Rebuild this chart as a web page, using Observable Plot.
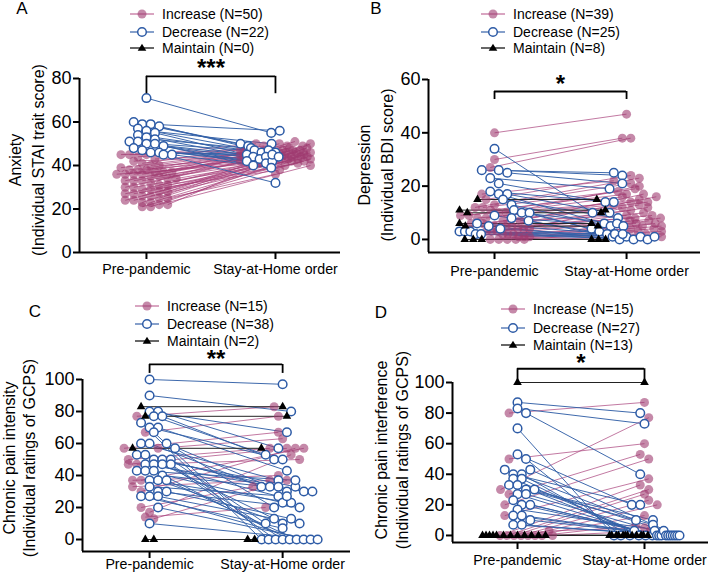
<!DOCTYPE html>
<html><head><meta charset="utf-8">
<script src="https://cdn.jsdelivr.net/npm/d3@7"></script>
<script src="https://cdn.jsdelivr.net/npm/@observablehq/plot@0.6"></script>
<style>
body{margin:0;background:#fff;font-family:"Liberation Sans",Arial,Helvetica,sans-serif;color:#000}
#root{position:relative;width:708px;height:573px;overflow:hidden;background:#fff}
.panel{position:absolute;width:354px}
.panel svg.plot{position:absolute;left:0;top:0;overflow:visible}
.letter{position:absolute;font-size:17px;transform:translate(-50%,-50%)}
.ytitle{position:absolute;font-size:16px;white-space:nowrap;text-align:center;transform:translate(-50%,-50%) rotate(-90deg)}
.leg{position:absolute;font-size:14px;line-height:14px;display:flex;align-items:center;white-space:nowrap;transform:translateY(-50%)}
.leg span{margin-left:8px}
</style>
</head><body>
<div id="root"></div>
<script>
// ---------- labels ----------
const timeLabels = ["Pre-pandemic", "Stay-at-Home order"];
const groupLabels = ["Increase", "Decrease", "Maintain"];
const panelLetters = ["A", "B", "C", "D"];
const yTitleLine1 = ["Anxiety", "Depression", "Chronic pain intensity", "Chronic pain interference"];
const yTitleLine2 = ["(Individual STAI trait score)", "(Individual BDI score)", "(Individual ratings of GCPS)", "(Individual ratings of GCPS)"];
const yTickValues = [[0, 20, 40, 60, 80], [0, 20, 40, 60], [0, 20, 40, 60, 80, 100], [0, 20, 40, 60, 80, 100]];
const sigLabels = ["***", "*", "**", "*"];
const sigLevels = [81, 55.5, 109.4, 109];
const sigLegEnds = [73, 52.5, 103.8, 100];
const aN = [50, 22, 0];
const bN = [39, 25, 8];
const cN = [15, 38, 2];
const dN = [15, 27, 13];

// ---------- Panel A: Anxiety ----------
const aIncPre  = [45,45,44,45,43,42,41,40,40,39,38,38,38,37,37,37,36,36,36,36,35,35,34,34,33,33,33,32,31,31,30,30,29,29,28,28,27,27,26,26,25,25,24,24,23,23,22,22,21,21];
const aIncPost = [47,46,48,50,45,44,49,46,43,47,45,42,48,44,50,46,41,47,43,45,49,44,46,42,48,45,43,51,44,40,47,42,46,38,45,49,43,41,47,44,46,36,45,42,48,44,40,50,43,46];
const aDecPre  = [71,60,59,59,58,57,56,55,54,53,52,51,51,50,50,49,48,47,46,46,45,45];
const aDecPost = [55,50,49,56,48,47,50,45,46,44,47,43,42,44,46,40,41,42,45,44,32,39];
const aMaiPre  = [];
const aMaiPost = [];

// ---------- Panel B: Depression ----------
const bIncPre  = [40,30,27,17,15,13,12,12,11,10,10,9,9,8,8,7,7,6,6,5,5,5,4,4,4,3,3,3,2,2,2,1,1,1,0,0,0,0,0];
const bIncPost = [47,38,38,22,24,21,23,18,17,16,20,14,19,13,15,12,17,9,14,11,16,8,10,13,7,9,6,12,8,5,4,7,3,6,5,2,4,3,1];
const bDecPre  = [34,26,26,25,23,21,18,17,17,15,13,11,10,10,9,8,7,6,5,4,3,3,3,2,2];
const bDecPost = [10,25,24,21,19,14,14,6,10,8,5,4,6,3,2,5,1,2,0,1,2,0,1,0,1];
const bMaiPre  = [15,11,10,6,5,0,0,0];
const bMaiPost = [15,11,10,6,5,0,0,0];

// ---------- Panel C: Chronic pain intensity ----------
const cIncPre  = [77,67,57,50,47,37,33,30,20,17,14,13,57,37,47];
const cIncPost = [83,77,67,57,57,40,37,57,33,53,20,37,63,57,50];
const cDecPre  = [100,90,80,80,77,77,73,70,70,67,60,60,60,57,53,53,50,50,50,47,47,47,47,43,43,43,40,37,37,37,33,30,30,27,27,27,20,10];
const cDecPost = [97,80,67,57,53,50,0,50,43,0,37,33,33,20,33,30,33,0,10,30,27,13,0,37,23,0,30,23,10,0,27,20,13,7,0,10,0,0];
const cMaiPre  = [83,77,57,0,0];
const cMaiPost = [83,77,57,0,0];

// ---------- Panel D: Chronic pain interference ----------
const dIncPre  = [80,50,30,27,20,13,0,0,0,0,0,0,0,3,0];
const dIncPost = [87,60,77,53,50,37,33,30,27,23,20,13,7,5,3];
const dDecPre  = [87,83,80,70,53,50,43,40,40,37,37,33,33,30,27,27,23,20,20,17,13,13,10,7,7,43,30];
const dDecPost = [80,73,40,0,20,0,10,20,0,3,0,10,0,7,0,3,0,0,0,3,0,0,0,0,0,0,0];
const dMaiPre  = [100,0,0,0,0,0,0,0,0,0,0,0,0];
const dMaiPost = [100,0,0,0,0,0,0,0,0,0,0,0,0];

// ---------- styling ----------
const PINK = "#9e3a70", PINK_LINE = "#a8407a", BLUE = "#2d5ba6", BLUE_LINE = "#3461a8", BLACK = "#000";

// layout per panel (positions/margins only)
const layouts = [
  {left:0, top:0, h:286, mt:78, mb:34, ml:79, mr:14, xd:[-0.519,1.504], yd:[0,80], xPad:4,
   letter:[22,9], title:[26.5,160], lh:23, leg:{x:130, y:[14,32,48]}, starY:87.2},
  {left:354, top:0, h:286, mt:79, mb:34, ml:74, mr:8, xd:[-0.5,1.56], yd:[-4.9,60], xPad:6,
   letter:[22,9], title:[21.5,165], lh:23, leg:{x:127, y:[14,32,48]}, starY:60.2},
  {left:0, top:286, h:287, mt:93, mb:22, ml:82, mr:4, xd:[-0.504,1.51], yd:[-7.5,100], xPad:0,
   letter:[35,26], title:[20,172], lh:20, leg:{x:135, y:[20,38,55]}, starY:116},
  {left:354, top:286, h:287, mt:96, mb:31, ml:98, mr:0, xd:[-0.512,1.504], yd:[-4.6,100], xPad:5,
   letter:[27,27], title:[37.5,164], lh:21, leg:{x:147, y:[23,42,59]}, starY:116}
];

const panelGroups = [
  [[aIncPre,aIncPost],[aDecPre,aDecPost],[aMaiPre,aMaiPost]],
  [[bIncPre,bIncPost],[bDecPre,bDecPost],[bMaiPre,bMaiPost]],
  [[cIncPre,cIncPost],[cDecPre,cDecPost],[cMaiPre,cMaiPost]],
  [[dIncPre,dIncPost],[dDecPre,dDecPost],[dMaiPre,dMaiPost]]
];
const panelN = [aN, bN, cN, dN];

const BIN = 6, SP = 8.5, MAXW = 70;

function swarm(points, yPx) {
  const sorted = points.slice().sort((a, b) => yPx(a.v) - yPx(b.v));
  const bins = [];
  let cur = null;
  for (const p of sorted) {
    const py = yPx(p.v);
    if (!cur || py - cur.y0 > BIN) { cur = {y0: py, items: []}; bins.push(cur); }
    cur.items.push(p);
  }
  for (const b of bins) {
    const n = b.items.length;
    const s = n > 1 ? Math.min(SP, MAXW / (n - 1)) : 0;
    b.items.sort((p, q) => (p.i * 3 + p.g) - (q.i * 3 + q.g));
    b.items.forEach((p, j) => { p.off = (j - (n - 1) / 2) * s; });
  }
}

function legendSvg(g) {
  const col = g === 0 ? "#c06a98" : g === 1 ? BLUE_LINE : BLACK;
  let m;
  if (g === 0) m = `<circle cx="12" cy="6" r="4.5" fill="${PINK}" fill-opacity="0.6"/>`;
  else if (g === 1) m = `<circle cx="12" cy="6" r="4.3" fill="#fff" stroke="${BLUE}" stroke-width="1.5"/>`;
  else m = `<path d="M12,1.8L16.3,8.8L7.7,8.8Z" fill="#000"/>`;
  return `<svg width="24" height="12" style="overflow:visible"><line x1="0" x2="24" y1="6" y2="6" stroke="${col}" stroke-width="1.2"/>${m}</svg>`;
}

const root = document.getElementById("root");

layouts.forEach((L, pi) => {
  const div = document.createElement("div");
  div.className = "panel";
  div.style.left = L.left + "px"; div.style.top = L.top + "px"; div.style.height = L.h + "px";
  root.appendChild(div);

  const W = 354;
  const kx = (W - L.ml - L.mr) / (L.xd[1] - L.xd[0]);
  const yS = Plot.scale({y: {domain: L.yd, range: [L.h - L.mb, L.mt]}});
  const yPx = v => yS.apply(v);

  const pts = [];
  const pairs = [];
  panelGroups[pi].forEach(([pre, post], g) => {
    pre.forEach((v, i) => {
      const a = {g, i, t: 0, v};
      const b = {g, i, t: 1, v: post[i]};
      pts.push(a, b);
      pairs.push([a, b]);
    });
  });
  swarm(pts.filter(p => p.t === 0), yPx);
  swarm(pts.filter(p => p.t === 1), yPx);
  pts.forEach(p => { p.x = p.t + p.off / kx; });
  const links = pairs.map(([a, b]) => ({g: a.g, x1: a.x, y1: a.v, x2: b.x, y2: b.v}));

  const yTop = yTickValues[pi][yTickValues[pi].length - 1];
  const font = "Liberation Sans, Arial, Helvetica, sans-serif";

  const chart = Plot.plot({
    width: W, height: L.h,
    marginTop: L.mt, marginBottom: L.mb, marginLeft: L.ml, marginRight: L.mr,
    style: {fontFamily: font, color: "#000", background: "transparent", overflow: "visible"},
    x: {domain: L.xd, label: null},
    y: {domain: L.yd, label: null},
    marks: [
      Plot.axisY({ticks: yTickValues[pi], tickSize: 6, tickPadding: 2, fontSize: 18, strokeWidth: 2, label: null}),
      Plot.axisX({ticks: [0, 1], tickFormat: d => timeLabels[d], tickSize: 7, tickPadding: L.xPad, fontSize: 14.2, strokeWidth: 2, label: null}),
      Plot.ruleY([L.yd[0]], {x1: L.xd[0], x2: L.xd[1], stroke: "#000", strokeWidth: 2}),
      Plot.ruleX([L.xd[0]], {y1: L.yd[0], y2: yTop, stroke: "#000", strokeWidth: 2}),
      Plot.link(links.filter(d => d.g === 0), {x1: "x1", y1: "y1", x2: "x2", y2: "y2", stroke: PINK_LINE, strokeOpacity: 0.7, strokeWidth: 1}),
      Plot.link(links.filter(d => d.g === 1), {x1: "x1", y1: "y1", x2: "x2", y2: "y2", stroke: BLUE_LINE, strokeOpacity: 0.95, strokeWidth: 1}),
      Plot.link(links.filter(d => d.g === 2), {x1: "x1", y1: "y1", x2: "x2", y2: "y2", stroke: "#222", strokeWidth: 1}),
      Plot.dot(pts.filter(d => d.g === 0), {x: "x", y: "v", r: 4.5, fill: PINK, fillOpacity: 0.6, stroke: "none"}),
      Plot.dot(pts.filter(d => d.g === 1), {x: "x", y: "v", r: 4.3, fill: "#fff", stroke: BLUE, strokeWidth: 1.5}),
      Plot.dot(pts.filter(d => d.g === 2), {x: "x", y: "v", r: 3.2, symbol: "triangle", fill: "#000", stroke: "none"}),
      Plot.ruleY([sigLevels[pi]], {x1: 0, x2: 1, stroke: "#000", strokeWidth: 1.8}),
      Plot.ruleX([0, 1], {y1: sigLegEnds[pi], y2: sigLevels[pi], stroke: "#000", strokeWidth: 1.8}),
      Plot.text([sigLabels[pi]], {x: 0.5, y: L.starY, text: d => d, fontSize: 24, fontWeight: "bold", dy: 5})
    ]
  });
  chart.classList.add("plot");
  div.appendChild(chart);

  const letter = document.createElement("div");
  letter.className = "letter";
  letter.textContent = panelLetters[pi];
  letter.style.left = L.letter[0] + "px"; letter.style.top = L.letter[1] + "px";
  div.appendChild(letter);

  const t = document.createElement("div");
  t.className = "ytitle";
  t.style.left = L.title[0] + "px"; t.style.top = L.title[1] + "px"; t.style.lineHeight = L.lh + "px";
  t.innerHTML = yTitleLine1[pi] + "<br>" + yTitleLine2[pi];
  div.appendChild(t);

  [0, 1, 2].forEach(g => {
    const row = document.createElement("div");
    row.className = "leg";
    row.style.left = L.leg.x + "px"; row.style.top = L.leg.y[g] + "px";
    row.innerHTML = legendSvg(g) + `<span>${groupLabels[g]} (N=${panelN[pi][g]})</span>`;
    div.appendChild(row);
  });
});
</script>
</body></html>
